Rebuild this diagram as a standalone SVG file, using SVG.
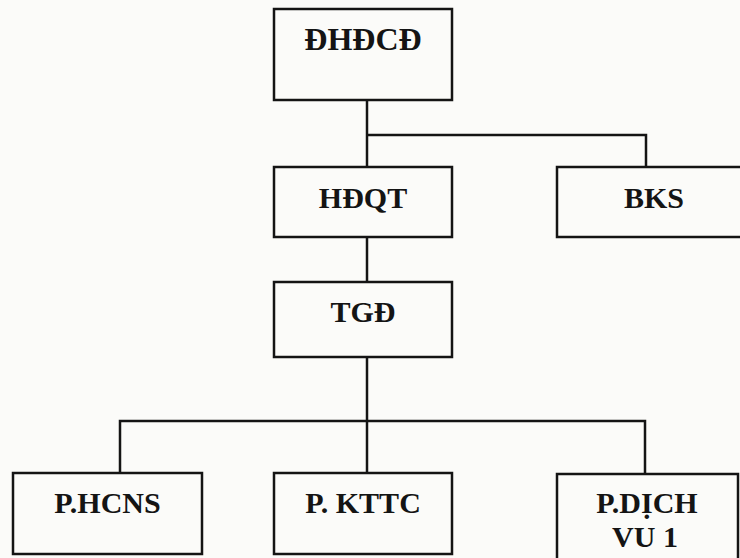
<svg xmlns="http://www.w3.org/2000/svg" width="740" height="558" viewBox="0 0 740 558">
<style>
.box{fill:none;stroke:#141414;stroke-width:2.5}
.lbl{font-family:"Liberation Serif","Times New Roman",serif;font-weight:bold;font-size:30px;fill:#141414;text-anchor:middle}
.conn{fill:none;stroke:#141414;stroke-width:2.5}
</style>
<rect width="740" height="558" fill="#fbfbf9"/>
<g id="connectors">
<path class="conn" d="M367 100 V167"/>
<path class="conn" d="M367 135 H646 V167"/>
<path class="conn" d="M367 237 V282"/>
<path class="conn" d="M367 357 V473"/>
<path class="conn" d="M120 473 V421 H645 V474"/>
</g>
<g id="dhdcd">
<rect class="box" x="274" y="9" width="178" height="91"/>
<text class="lbl" x="363" y="50" style="font-size:32px">ĐHĐCĐ</text>
</g>
<g id="hdqt">
<rect class="box" x="274" y="167" width="178" height="70"/>
<text class="lbl" x="363" y="208">HĐQT</text>
</g>
<g id="bks">
<rect class="box" x="557" y="167" width="195" height="70"/>
<text class="lbl" x="654" y="208">BKS</text>
</g>
<g id="tgd">
<rect class="box" x="274" y="282" width="178" height="75"/>
<text class="lbl" x="363" y="322">TGĐ</text>
</g>
<g id="phcns">
<rect class="box" x="13" y="473" width="189" height="81"/>
<text class="lbl" x="107.5" y="513">P.HCNS</text>
</g>
<g id="pkttc">
<rect class="box" x="274" y="473" width="178" height="81"/>
<text class="lbl" x="363" y="513">P. KTTC</text>
</g>
<g id="pdichvu1">
<rect class="box" x="557" y="474" width="181" height="90"/>
<text class="lbl" x="647" y="513">P.DỊCH</text>
<text class="lbl" x="645" y="547">VU 1</text>
</g>
</svg>
